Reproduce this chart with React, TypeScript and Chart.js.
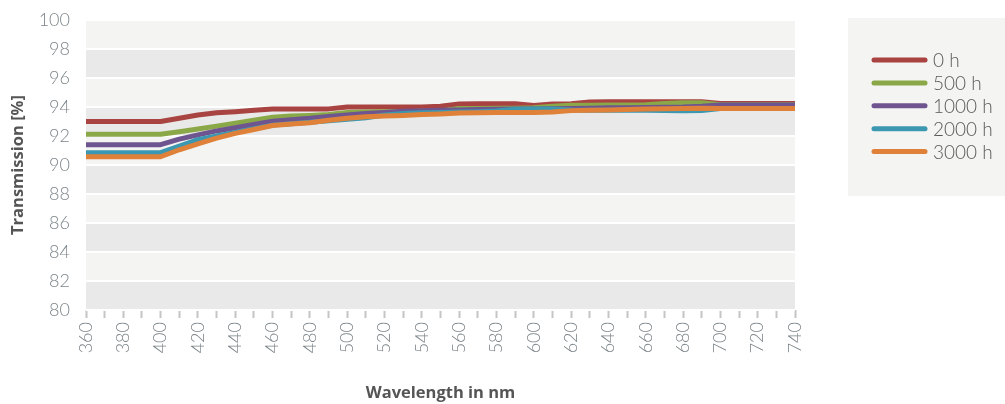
import React, { useEffect, useRef } from "react";
import { Chart, registerables } from "chart.js";

Chart.register(...registerables);

const WAVELENGTHS = [
  360, 370, 380, 390, 400, 410, 420, 430, 440, 450, 460, 470, 480, 490, 500, 510, 520, 530, 540, 550,
  560, 570, 580, 590, 600, 610, 620, 630, 640, 650, 660, 670, 680, 690, 700, 710, 720, 730, 740,
];

const SERIES_LABELS = ["0 h", "500 h", "1000 h", "2000 h", "3000 h"];
const SERIES_COLORS = ["#a84341", "#8ba848", "#6e5590", "#3c97b1", "#df8139"];

const T_0H = [
  93.0, 93.0, 93.0, 93.0, 93.0, 93.22, 93.45, 93.6, 93.68, 93.78, 93.87, 93.87, 93.87, 93.87, 94.0, 94.0, 94.0, 94.0, 94.0, 94.05,
  94.2, 94.22, 94.22, 94.22, 94.1, 94.2, 94.22, 94.35, 94.36, 94.36, 94.36, 94.36, 94.36, 94.36, 94.25, 94.25, 94.25, 94.25, 94.25,
];
const T_500H = [
  92.12, 92.12, 92.12, 92.12, 92.12, 92.3, 92.48, 92.68, 92.88, 93.08, 93.3, 93.38, 93.42, 93.48, 93.62, 93.66, 93.68, 93.68, 93.7, 93.72,
  93.9, 93.9, 93.92, 93.92, 93.95, 94.05, 94.12, 94.12, 94.14, 94.14, 94.16, 94.25, 94.3, 94.3, 94.15, 94.15, 94.15, 94.15, 94.15,
];
const T_1000H = [
  91.4, 91.4, 91.4, 91.4, 91.4, 91.78, 92.08, 92.35, 92.57, 92.8, 93.02, 93.12, 93.22, 93.35, 93.45, 93.55, 93.62, 93.7, 93.75, 93.78,
  93.8, 93.82, 93.85, 93.86, 93.86, 93.88, 93.9, 93.92, 93.94, 93.95, 93.96, 93.98, 94.0, 94.05, 94.14, 94.14, 94.14, 94.14, 94.14,
];
const T_2000H = [
  90.85, 90.85, 90.85, 90.85, 90.85, 91.3, 91.75, 92.0, 92.25, 92.5, 92.75, 92.85, 92.95, 93.05, 93.15, 93.25, 93.45, 93.55, 93.6, 93.62,
  93.65, 93.68, 93.72, 93.85, 93.86, 93.86, 93.8, 93.78, 93.78, 93.78, 93.77, 93.75, 93.74, 93.75, 93.9, 93.9, 93.9, 93.9, 93.9,
];
const T_3000H = [
  90.57, 90.57, 90.57, 90.57, 90.57, 91.05, 91.45, 91.85, 92.18, 92.45, 92.72, 92.82, 92.92, 93.08, 93.22, 93.33, 93.38, 93.42, 93.48, 93.52,
  93.58, 93.6, 93.62, 93.62, 93.62, 93.65, 93.75, 93.78, 93.8, 93.83, 93.86, 93.88, 93.9, 93.92, 93.9, 93.9, 93.9, 93.9, 93.9,
];

const SERIES_VALUES = [T_0H, T_500H, T_1000H, T_2000H, T_3000H];

const Y_MIN = 80;
const Y_MAX = 100;
const Y_STEP = 2;

const X_TITLE = "Wavelength in nm";
const Y_TITLE = "Transmission [%]";

const FONT = "Lato, 'Open Sans', sans-serif";
const BOLD_FONT = "'Open Sans', Lato, sans-serif";
const TICK_COLOR = "#7d858a";

const bandsPlugin = {
  id: "bands",
  beforeDraw(chart: any) {
    const { ctx, chartArea, scales } = chart;
    const y = scales.y;
    ctx.save();
    for (let v = Y_MIN; v < Y_MAX; v += Y_STEP) {
      const top = y.getPixelForValue(v + Y_STEP);
      const bottom = y.getPixelForValue(v);
      ctx.fillStyle = (v / Y_STEP) % 2 === 0 ? "#e8e9e8" : "#f4f4f3";
      ctx.fillRect(chartArea.left, top, chartArea.right - chartArea.left, bottom - top);
    }
    ctx.restore();
  },
};

const legendPlugin = {
  id: "customLegend",
  afterDraw(chart: any) {
    const { ctx } = chart;
    ctx.save();
    ctx.fillStyle = "#f4f4f3";
    ctx.fillRect(848, 18, 157, 178);
    const datasets = chart.data.datasets;
    datasets.forEach((ds: any, i: number) => {
      const cy = 60 + i * 22.9;
      ctx.strokeStyle = ds.borderColor;
      ctx.lineWidth = 5;
      ctx.lineCap = "round";
      ctx.beginPath();
      ctx.moveTo(874, cy);
      ctx.lineTo(925, cy);
      ctx.stroke();
      ctx.fillStyle = "#5a5a5a";
      ctx.font = `300 19px ${FONT}`;
      ctx.textBaseline = "middle";
      ctx.textAlign = "left";
      ctx.fillText(ds.label, 933, cy + 1);
    });
    ctx.restore();
  },
};

export default function App() {
  const ref = useRef<HTMLCanvasElement | null>(null);

  useEffect(() => {
    document.body.style.margin = "0";
    const canvas = ref.current;
    if (!canvas) return;
    const chart = new Chart(canvas, {
      type: "line",
      data: {
        labels: WAVELENGTHS,
        datasets: SERIES_LABELS.map((label, i) => ({
          label,
          data: SERIES_VALUES[i],
          borderColor: SERIES_COLORS[i],
          backgroundColor: SERIES_COLORS[i],
          borderWidth: 5,
          pointRadius: 0,
          tension: 0,
          borderJoinStyle: "round" as const,
          order: SERIES_LABELS.length - i,
        })),
      },
      options: {
        animation: false,
        responsive: false,
        layout: { padding: { left: 0, right: 210, top: 20, bottom: 0 } },
        plugins: {
          legend: { display: false },
          tooltip: { enabled: false },
        },
        scales: {
          x: {
            type: "category",
            grid: {
              drawOnChartArea: false,
              drawTicks: true,
              tickLength: 8,
              tickColor: "#c4c4c4",
              tickWidth: 2,
            },
            border: { display: false },
            ticks: {
              autoSkip: false,
              minRotation: 90,
              maxRotation: 90,
              padding: 4,
              color: TICK_COLOR,
              font: { family: FONT, size: 18, weight: "300" as any },
              callback: function (this: any, value: any) {
                const wl = WAVELENGTHS[value as number];
                return wl % 20 === 0 ? String(wl) : "";
              },
            },
            title: {
              display: true,
              text: X_TITLE,
              color: "#555555",
              font: { family: BOLD_FONT, size: 16.5, weight: "bold" },
              padding: { top: 0, bottom: 1 },
            },
            afterFit(scale: any) {
              scale.height = 94;
              scale.paddingLeft = 0;
              scale.paddingRight = 0;
            },
          },
          y: {
            min: Y_MIN,
            max: Y_MAX,
            grid: {
              color: "#ffffff",
              lineWidth: 2,
              drawTicks: false,
            },
            border: { display: false },
            ticks: {
              stepSize: Y_STEP,
              padding: 16,
              color: TICK_COLOR,
              font: { family: FONT, size: 18, weight: "300" as any },
            },
            title: {
              display: true,
              text: Y_TITLE,
              color: "#555555",
              font: { family: BOLD_FONT, size: 16.5, weight: "bold" },
              padding: { top: 8, bottom: 0 },
            },
            afterFit(scale: any) {
              scale.width = 86;
              scale.paddingTop = 0;
              scale.paddingBottom = 0;
            },
          },
        },
      },
      plugins: [bandsPlugin, legendPlugin],
    });
    return () => chart.destroy();
  }, []);

  return <canvas ref={ref} width={1005} height={404} style={{ display: "block" }} />;
}
